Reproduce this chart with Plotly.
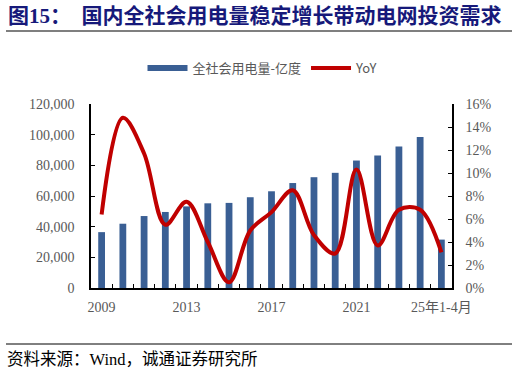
import plotly.graph_objects as go

categories = ["2009", "2010", "2011", "2012", "2013", "2014", "2015", "2016", "2017",
              "2018", "2019", "2020", "2021", "2022", "2023", "2024", "25年1-4月"]
tick_labels = ["2009", "", "", "", "2013", "", "", "", "2017", "", "", "", "2021", "", "", "", "25年1-4月"]
consumption = [36430, 41923, 46928, 49591, 53223, 55233, 55500, 59198, 63077,
               68449, 72255, 75110, 83128, 86372, 92241, 98521, 31566]
yoy = [0.064, 0.148, 0.117, 0.055, 0.075, 0.040, 0.005, 0.050, 0.066,
       0.085, 0.046, 0.030, 0.103, 0.037, 0.068, 0.068, 0.031]

title_text = "图15：  国内全社会用电量稳定增长带动电网投资需求"
source_text = "资料来源：Wind，诚通证券研究所"
bar_name = "全社会用电量-亿度"
line_name = "YoY"

serif = "Liberation Serif, Times New Roman, Noto Sans CJK SC, serif"
gray = "#595959"
bar_color = "#3A5F94"

PL, PR, PT, PB = 91, 452, 104, 288
PW, PH = PR - PL, PB - PT


def px(x):
    return (x - PL) / PW


def py(y):
    return (PB - y) / PH


fig = go.Figure()
# legend-only entry to show a wide rectangular swatch for the bars
fig.add_trace(go.Scatter(x=[None], y=[None], name=bar_name, mode="lines",
                         line=dict(color=bar_color, width=6), legendgroup="bar"))
fig.add_trace(go.Bar(x=categories, y=consumption, name=bar_name, showlegend=False,
                     legendgroup="bar",
                     marker=dict(color=bar_color, line=dict(width=0)), yaxis="y"))
fig.add_trace(go.Scatter(x=categories, y=yoy, name=line_name, mode="lines",
                         line=dict(color="#C00000", width=4, shape="spline", smoothing=1.0),
                         yaxis="y2"))

fig.update_layout(
    width=519, height=375,
    margin=dict(l=PL, r=519 - PR, t=PT, b=375 - PB),
    paper_bgcolor="white", plot_bgcolor="white",
    bargap=0.68,
    showlegend=True,
    legend=dict(orientation="h", x=px(263), xanchor="center", y=py(68), yanchor="middle",
                font=dict(family="Noto Sans CJK SC, sans-serif", size=13, color=gray),
                itemwidth=40, tracegroupgap=0, bgcolor="rgba(0,0,0,0)"),
    xaxis=dict(type="category", tickvals=categories, ticktext=tick_labels,
               tickson="boundaries", ticks="inside", ticklen=4, tickcolor="#000",
               showline=True, linecolor="#000", linewidth=1.5, showgrid=False,
               tickangle=0, ticklabelstandoff=5,
               tickfont=dict(family=serif, size=14, color=gray)),
    yaxis=dict(range=[0, 120000], dtick=20000, tickformat=",", ticks="inside", ticklen=4,
               tickcolor="#000", showline=True, linecolor="#000", linewidth=1.5,
               showgrid=False, zeroline=False, ticklabelstandoff=12,
               tickfont=dict(family=serif, size=14, color=gray)),
    yaxis2=dict(range=[0, 0.16], dtick=0.02, tickformat=".0%", overlaying="y", side="right",
                ticks="inside", ticklen=4, tickcolor="#000", showline=True, linecolor="#000",
                linewidth=1.5, showgrid=False, zeroline=False, ticklabelstandoff=9,
                tickfont=dict(family=serif, size=14, color=gray)),
    annotations=[
        dict(text="<b>" + title_text + "</b>", xref="paper", yref="paper",
             x=px(6), y=py(16), xanchor="left", yanchor="middle", showarrow=False,
             font=dict(family="Liberation Serif, Noto Sans CJK SC, serif", size=21, color="#16197A")),
        dict(text=source_text, xref="paper", yref="paper",
             x=px(5), y=py(359), xanchor="left", yanchor="middle", showarrow=False,
             font=dict(family="Liberation Serif, Noto Sans CJK SC, serif", size=16.5, color="#000")),
    ],
    shapes=[
        dict(type="line", xref="paper", yref="paper", x0=px(6), x1=px(512),
             y0=py(31), y1=py(31), line=dict(color="#7F7F7F", width=2)),
        dict(type="line", xref="paper", yref="paper", x0=px(6), x1=px(512),
             y0=py(344), y1=py(344), line=dict(color="#000", width=1)),
    ],
)

fig.write_html("out.html", config={"displayModeBar": False},
               post_script="document.body.style.margin='0';")
